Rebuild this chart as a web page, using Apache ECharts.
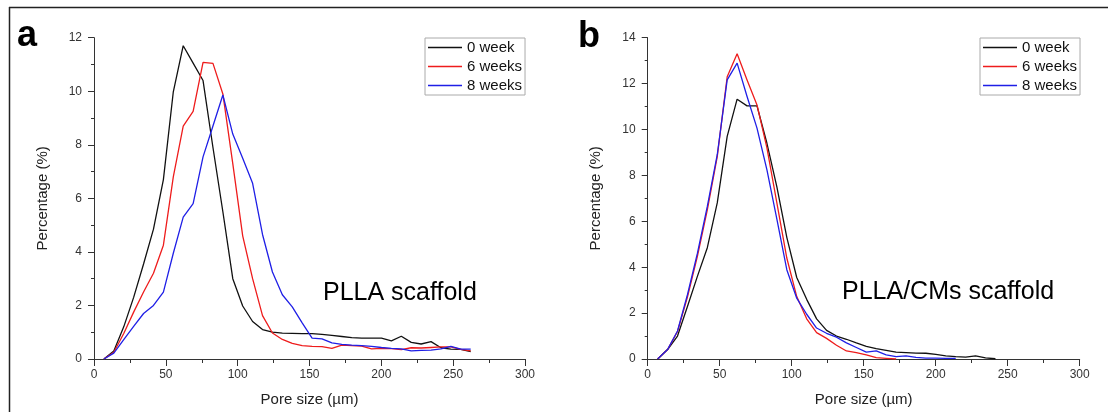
<!DOCTYPE html>
<html>
<head>
<meta charset="utf-8">
<script src="https://cdn.jsdelivr.net/npm/echarts@6/dist/echarts.min.js"></script>
<style>
html,body{margin:0;padding:0;background:#fff;}
#chart{width:1108px;height:412px;}
</style>
</head>
<body>
<div id="chart"></div>
<script>
// Pore-size bins (µm)
const poreSize = [6.9, 13.8, 20.7, 27.6, 34.5, 41.4, 48.3, 55.2, 62.1, 69.0,
  75.9, 82.8, 89.7, 96.6, 103.5, 110.4, 117.3, 124.2, 131.1, 138.0,
  144.9, 151.8, 158.7, 165.6, 172.5, 179.4, 186.3, 193.2, 200.1, 207.0,
  213.9, 220.8, 227.7, 234.6, 241.5, 248.4, 255.3, 262.2];

const seriesNames = ['0 week', '6 weeks', '8 weeks'];

// Panel a: PLLA scaffold (percentage %)
const plla0w = [0, 0.3, 1.2, 2.3, 3.55, 4.85, 6.7, 9.98, 11.7, 11.05,
  10.4, 7.9, 5.5, 3.0, 1.98, 1.4, 1.1, 1.0, 0.97, 0.96,
  0.95, 0.95, 0.92, 0.88, 0.84, 0.8, 0.78, 0.78, 0.78, 0.68,
  0.85, 0.62, 0.56, 0.65, 0.42, 0.37, 0.36, 0.28];
const plla6w = [0, 0.25, 0.95, 1.75, 2.5, 3.2, 4.25, 6.8, 8.7, 9.25,
  11.08, 11.04, 9.9, 7.3, 4.6, 3.0, 1.62, 0.97, 0.73, 0.58,
  0.5, 0.47, 0.46, 0.4, 0.52, 0.5, 0.48, 0.38, 0.4, 0.39,
  0.35, 0.42, 0.41, 0.43, 0.45, 0.45, 0.36, 0.3];
const plla8w = [0, 0.22, 0.72, 1.22, 1.7, 2.0, 2.5, 3.95, 5.3, 5.8,
  7.55, 8.7, 9.86, 8.4, 7.5, 6.56, 4.65, 3.25, 2.4, 1.95,
  1.35, 0.78, 0.75, 0.6, 0.55, 0.52, 0.5, 0.47, 0.43, 0.4,
  0.38, 0.3, 0.32, 0.33, 0.38, 0.47, 0.37, 0.37];

// Panel b: PLLA/CMs scaffold (percentage %)
const cms0w = [0, 0.41, 1.0, 2.29, 3.6, 4.85, 6.8, 9.7, 11.32, 11.03,
  11.03, 9.4, 7.5, 5.3, 3.55, 2.6, 1.75, 1.25, 1.0, 0.86,
  0.7, 0.55, 0.45, 0.38, 0.3, 0.28, 0.26, 0.25, 0.2, 0.14,
  0.1, 0.08, 0.14, 0.05, 0.01];
const cms6w = [0, 0.41, 1.2, 2.7, 4.47, 6.5, 8.82, 12.3, 13.3, 12.16,
  11.07, 9.2, 6.8, 4.4, 2.72, 1.75, 1.15, 0.9, 0.6, 0.35,
  0.28, 0.18, 0.06, 0.03, 0.0];
const cms8w = [0, 0.41, 1.22, 2.8, 4.6, 6.65, 8.9, 12.16, 12.89, 11.44,
  10.06, 8.24, 6.1, 3.89, 2.65, 1.95, 1.35, 1.12, 0.95, 0.7,
  0.5, 0.3, 0.35, 0.18, 0.1, 0.14, 0.07, 0.04, 0.04, 0.03,
  0.03];

const xTicks = {min: 0, max: 300, interval: 50};
const yTicksA = {min: 0, max: 12, interval: 2};
const yTicksB = {min: 0, max: 14, interval: 2};

const colors = ['#111111', '#ee1c1c', '#1f1fe6'];
const FONT = '"Liberation Sans", Arial, sans-serif';

function pairs(vals) {
  return vals.map((v, i) => [poreSize[i], v]);
}

const chart = echarts.init(document.getElementById('chart'), null, {renderer: 'canvas'});

function xAxisCfg(gridIndex) {
  return {
    type: 'value', gridIndex: gridIndex,
    min: xTicks.min, max: xTicks.max, interval: xTicks.interval,
    name: 'Pore size (µm)', nameLocation: 'middle', nameGap: 33,
    nameTextStyle: {fontSize: 15, color: '#222', fontFamily: FONT},
    axisLine: {show: true, onZero: false, lineStyle: {color: '#333', width: 1}},
    axisTick: {show: true, inside: false, length: 7, lineStyle: {color: '#333'}},
    minorTick: {show: true, splitNumber: 2, length: 4, lineStyle: {color: '#333'}},
    axisLabel: {fontSize: 12, color: '#333', margin: 10, fontFamily: FONT},
    splitLine: {show: false}, minorSplitLine: {show: false}
  };
}
function yAxisCfg(gridIndex, t) {
  return {
    type: 'value', gridIndex: gridIndex,
    min: t.min, max: t.max, interval: t.interval,
    name: 'Percentage (%)', nameLocation: 'middle', nameGap: 44,
    nameTextStyle: {fontSize: 15, color: '#222', fontFamily: FONT},
    axisLine: {show: true, lineStyle: {color: '#333', width: 1}},
    axisTick: {show: true, inside: false, length: 6, lineStyle: {color: '#333'}},
    minorTick: {show: true, splitNumber: 2, length: 3, lineStyle: {color: '#333'}},
    axisLabel: {fontSize: 12, color: '#333', margin: 12, fontFamily: FONT},
    splitLine: {show: false}, minorSplitLine: {show: false}
  };
}
function lineSeries(name, vals, idx, axisIdx) {
  return {
    name: name, type: 'line', xAxisIndex: axisIdx, yAxisIndex: axisIdx,
    data: pairs(vals), showSymbol: false, symbol: 'none',
    lineStyle: {color: colors[idx], width: 1.3},
    itemStyle: {color: colors[idx]},
    animation: false, silent: true
  };
}
function legendCfg(left) {
  return {
    orient: 'vertical', left: left, top: 38,
    icon: 'rect', itemWidth: 34, itemHeight: 1.5, itemGap: 0,
    padding: [0, 3, 0, 3],
    borderColor: '#aaa', borderWidth: 1, backgroundColor: '#fff',
    selectedMode: false,
    textStyle: {fontSize: 15, lineHeight: 19, color: '#111', fontFamily: FONT},
    data: seriesNames
  };
}

const option = {
  animation: false,
  backgroundColor: '#fff',
  grid: [
    {left: 94, top: 37.7, width: 431, height: 321.6, containLabel: false},
    {left: 647.7, top: 37.7, width: 432, height: 321.6, containLabel: false}
  ],
  xAxis: [xAxisCfg(0), xAxisCfg(1)],
  yAxis: [yAxisCfg(0, yTicksA), yAxisCfg(1, yTicksB)],
  legend: [legendCfg(425), legendCfg(980)],
  series: [
    lineSeries(seriesNames[0], plla0w, 0, 0),
    lineSeries(seriesNames[1], plla6w, 1, 0),
    lineSeries(seriesNames[2], plla8w, 2, 0),
    lineSeries(seriesNames[0], cms0w, 0, 1),
    lineSeries(seriesNames[1], cms6w, 1, 1),
    lineSeries(seriesNames[2], cms8w, 2, 1)
  ],
  graphic: [
    {type: 'line', shape: {x1: 9, y1: 7.5, x2: 1108, y2: 7.5}, style: {stroke: '#222', lineWidth: 1.5}, silent: true},
    {type: 'line', shape: {x1: 9.5, y1: 7, x2: 9.5, y2: 412}, style: {stroke: '#222', lineWidth: 1.5}, silent: true},
    {type: 'text', left: 17, top: 18, style: {text: 'a', fontSize: 36, fontWeight: 'bold', fontFamily: FONT, fill: '#000'}, silent: true},
    {type: 'text', left: 578, top: 19, style: {text: 'b', fontSize: 36, fontWeight: 'bold', fontFamily: FONT, fill: '#000'}, silent: true},
    {type: 'text', left: 323, top: 281, style: {text: 'PLLA scaffold', fontSize: 25, fontFamily: FONT, fill: '#000'}, silent: true},
    {type: 'text', left: 842, top: 280, style: {text: 'PLLA/CMs scaffold', fontSize: 25, fontFamily: FONT, fill: '#000'}, silent: true}
  ]
};
chart.setOption(option);
</script>
</body>
</html>
